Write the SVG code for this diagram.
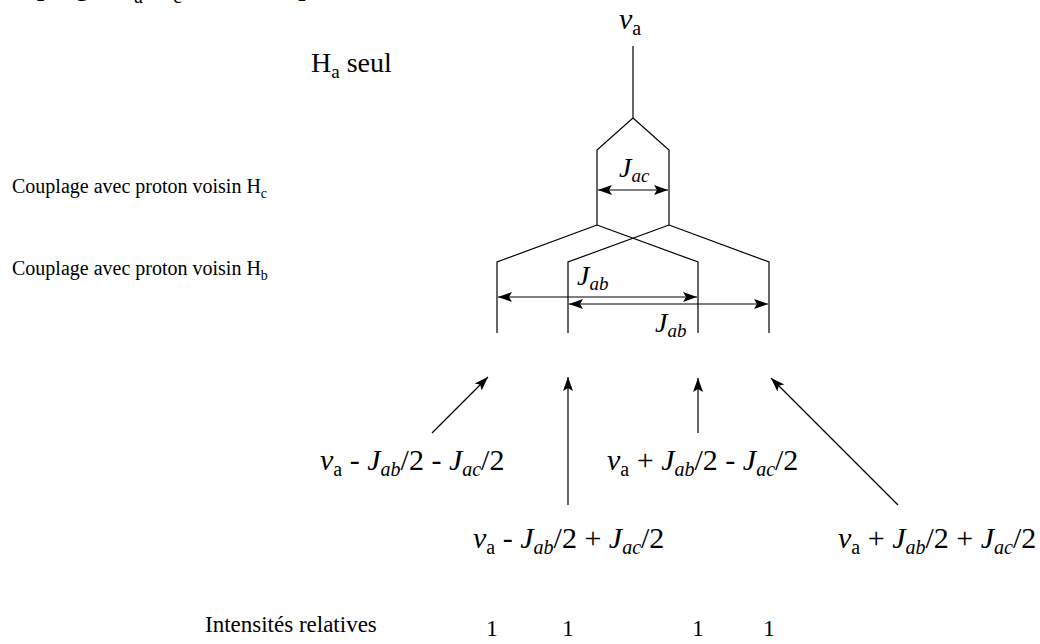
<svg xmlns="http://www.w3.org/2000/svg" width="1040" height="644" viewBox="0 0 1040 644">
<style>
text{font-family:"Liberation Serif","Times New Roman",serif;font-size:20px;fill:#000}
.it{font-style:italic}
.sub{font-size:14px}
.big{font-size:28px}
.big .sub{font-size:19px}
.m{font-size:30px}
.m .sub{font-size:20px}
.title{font-size:31px}
.title .sub{font-size:20px}
.int{font-size:23px}
.ln{stroke:#000;stroke-width:1.2;fill:none}
</style>
<defs>
<marker id="ah" viewBox="0 0 14 10" refX="14" refY="5" markerWidth="14" markerHeight="10" markerUnits="userSpaceOnUse" orient="auto-start-reverse">
<path d="M0,0 L14,5 L0,10 L3,5 z" fill="#000"/>
</marker>
</defs>
<rect width="1040" height="644" fill="#fff"/>

<g id="top-clipped-text">
<text class="title" x="-15" y="-6.5">Couplage H<tspan class="sub" dy="9">a</tspan><tspan dy="-9"> H</tspan><tspan class="sub" dy="9">c</tspan><tspan dy="-9"> traité en premier</tspan></text>
</g>

<g id="label-ha-seul"><text class="big" x="311" y="72">H<tspan class="sub" dy="6">a</tspan><tspan dy="-6"> seul</tspan></text></g>
<g id="label-hc"><text x="12" y="193">Couplage avec proton voisin H<tspan class="sub" dy="5">c</tspan></text></g>
<g id="label-hb"><text x="12" y="275">Couplage avec proton voisin H<tspan class="sub" dy="5">b</tspan></text></g>

<g id="nu-a"><text class="m" x="619" y="29"><tspan class="it">ν</tspan><tspan class="sub" dy="6">a</tspan></text></g>

<g id="tree">
<path class="ln" d="M633,46 V118 L597,150 V225 M633,118 L669,150 V225"/>
<path class="ln" d="M597,225 L497,262 V333 M597,225 L698,262 V333 M669,225 L568,262 V333 M669,225 L769,262 V333"/>
</g>

<g id="couplings">
<text x="619" y="177" class="it big">J<tspan class="sub" dy="5">ac</tspan></text>
<line class="ln" x1="598" y1="190" x2="668" y2="190" marker-start="url(#ah)" marker-end="url(#ah)"/>
<text x="577" y="285" class="it big">J<tspan class="sub" dy="5">ab</tspan></text>
<line class="ln" x1="498" y1="297" x2="697" y2="297" marker-start="url(#ah)" marker-end="url(#ah)"/>
<line class="ln" x1="569" y1="304" x2="768" y2="304" marker-start="url(#ah)" marker-end="url(#ah)"/>
<text x="655" y="332" class="it big">J<tspan class="sub" dy="5">ab</tspan></text>
</g>

<g id="connectors">
<line class="ln" x1="432" y1="433" x2="488" y2="377" marker-end="url(#ah)"/>
<line class="ln" x1="568" y1="505" x2="568" y2="377" marker-end="url(#ah)"/>
<line class="ln" x1="698" y1="433" x2="698" y2="378" marker-end="url(#ah)"/>
<line class="ln" x1="898" y1="505" x2="771" y2="378" marker-end="url(#ah)"/>
</g>

<g id="line1"><text class="m" x="320" y="470"><tspan class="it">ν</tspan><tspan class="sub" dy="6">a</tspan><tspan dy="-6"> - </tspan><tspan class="it">J</tspan><tspan class="it sub" dy="6">ab</tspan><tspan dy="-6">/2 - </tspan><tspan class="it">J</tspan><tspan class="it sub" dy="6">ac</tspan><tspan dy="-6">/2</tspan></text></g>
<g id="line2"><text class="m" x="473" y="548"><tspan class="it">ν</tspan><tspan class="sub" dy="6">a</tspan><tspan dy="-6"> - </tspan><tspan class="it">J</tspan><tspan class="it sub" dy="6">ab</tspan><tspan dy="-6">/2 + </tspan><tspan class="it">J</tspan><tspan class="it sub" dy="6">ac</tspan><tspan dy="-6">/2</tspan></text></g>
<g id="line3"><text class="m" x="607" y="470"><tspan class="it">ν</tspan><tspan class="sub" dy="6">a</tspan><tspan dy="-6"> + </tspan><tspan class="it">J</tspan><tspan class="it sub" dy="6">ab</tspan><tspan dy="-6">/2 - </tspan><tspan class="it">J</tspan><tspan class="it sub" dy="6">ac</tspan><tspan dy="-6">/2</tspan></text></g>
<g id="line4"><text class="m" x="838" y="548"><tspan class="it">ν</tspan><tspan class="sub" dy="6">a</tspan><tspan dy="-6"> + </tspan><tspan class="it">J</tspan><tspan class="it sub" dy="6">ab</tspan><tspan dy="-6">/2 + </tspan><tspan class="it">J</tspan><tspan class="it sub" dy="6">ac</tspan><tspan dy="-6">/2</tspan></text></g>

<g id="intensities">
<text class="int" x="205" y="632">Intensités relatives</text>
<text class="int" x="492" y="636" text-anchor="middle">1</text>
<text class="int" x="568" y="636" text-anchor="middle">1</text>
<text class="int" x="698" y="636" text-anchor="middle">1</text>
<text class="int" x="769" y="636" text-anchor="middle">1</text>
</g>
</svg>
